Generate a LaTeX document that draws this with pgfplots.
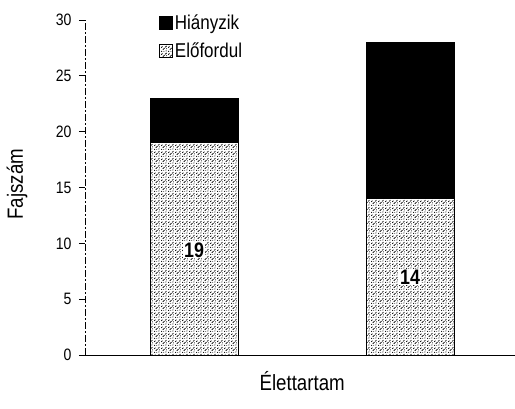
\documentclass[border=0pt]{standalone}
\usepackage{pgfplots}
\pgfplotsset{compat=1.18}
\usepackage{fontspec}
\setmainfont{Liberation Sans}[FakeStretch=0.85]
\usetikzlibrary{patterns.meta}
\tikzdeclarepattern{
  name=speckle,
  type=uncolored,
  bottom left={(0pt,0pt)}, top right={(7pt,7pt)}, tile size={(7pt,7pt)},
  code={
    \fill (0.7pt,0.7pt) circle (0.7pt);
    \draw[line width=0.9pt] (2pt,2.4pt)--(4pt,4.4pt);
    \fill (5.6pt,1.2pt) circle (0.65pt);
    \draw[line width=0.8pt] (0.3pt,4.6pt)--(1.6pt,6.1pt);
    \draw[line width=0.8pt] (4.6pt,5.2pt)--(6.2pt,6.6pt);
    \fill (3.2pt,0.6pt) circle (0.5pt);
    \fill (6.2pt,3.6pt) circle (0.55pt);
  }
}
\newcommand{\lgf}{\fontsize{20}{20}\selectfont}
\begin{document}
\begin{tikzpicture}
\path[use as bounding box] (-85pt,-54pt) rectangle (430pt,355pt);
\begin{axis}[
  at={(0,0)}, anchor=south west,
  scale only axis, width=430pt, height=335pt,
  xmin=-0.505, xmax=1.486, ymin=0, ymax=30,
  axis lines=left, axis line style={-, line width=0.8pt},
  y axis line style={line width=0.7pt, dash pattern=on 7pt off 2pt on 2pt off 2pt},
  ytick={0,5,...,30}, xtick=\empty,
  tick align=outside, major tick length=6pt,
  tick style={line width=0.8pt, black, solid},
  yticklabel={\fontsize{16.5}{16.5}\selectfont\pgfmathprintnumber{\tick}},
  yticklabel style={xshift=-4pt},
  /pgf/number format/assume math mode=true,
  ybar stacked, bar width=88pt,
  ylabel={\fontsize{22}{22}\selectfont Fajszám}, xlabel={\fontsize{22}{22}\selectfont Élettartam},
  ylabel style={at={(rel axis cs:-0.158,0.51)}, anchor=center},
  xlabel style={at={(rel axis cs:0.505,-0.078)}, anchor=center},
  legend style={at={(rel axis cs:0.165,1.028)}, anchor=north west, draw=none,
    row sep=8pt,
    /tikz/every even column/.append style={column sep=3pt}},
  legend image code/.code={\draw[#1] (0pt,-6pt) rectangle (13pt,7pt);},
  legend cell align=left, reverse legend,
  clip=false,
]
\addplot[draw=black, line width=0.8pt, fill=white, postaction={pattern={speckle}, pattern color=black}] coordinates {(0,19) (1,14)};
\addplot[draw=black, fill=black] coordinates {(0,4) (1,14)};
\legend{{\lgf Előfordul}, {\lgf Hiányzik}}
\coordinate (la) at (axis cs:0,9.4);
\coordinate (lb) at (axis cs:1,7.0);
\end{axis}
\node[font=\fontsize{21}{21}\selectfont\bfseries, fill=white, inner sep=1pt] at (la) {19};
\node[font=\fontsize{21}{21}\selectfont\bfseries, fill=white, inner sep=1pt] at (lb) {14};
\end{tikzpicture}
\end{document}
